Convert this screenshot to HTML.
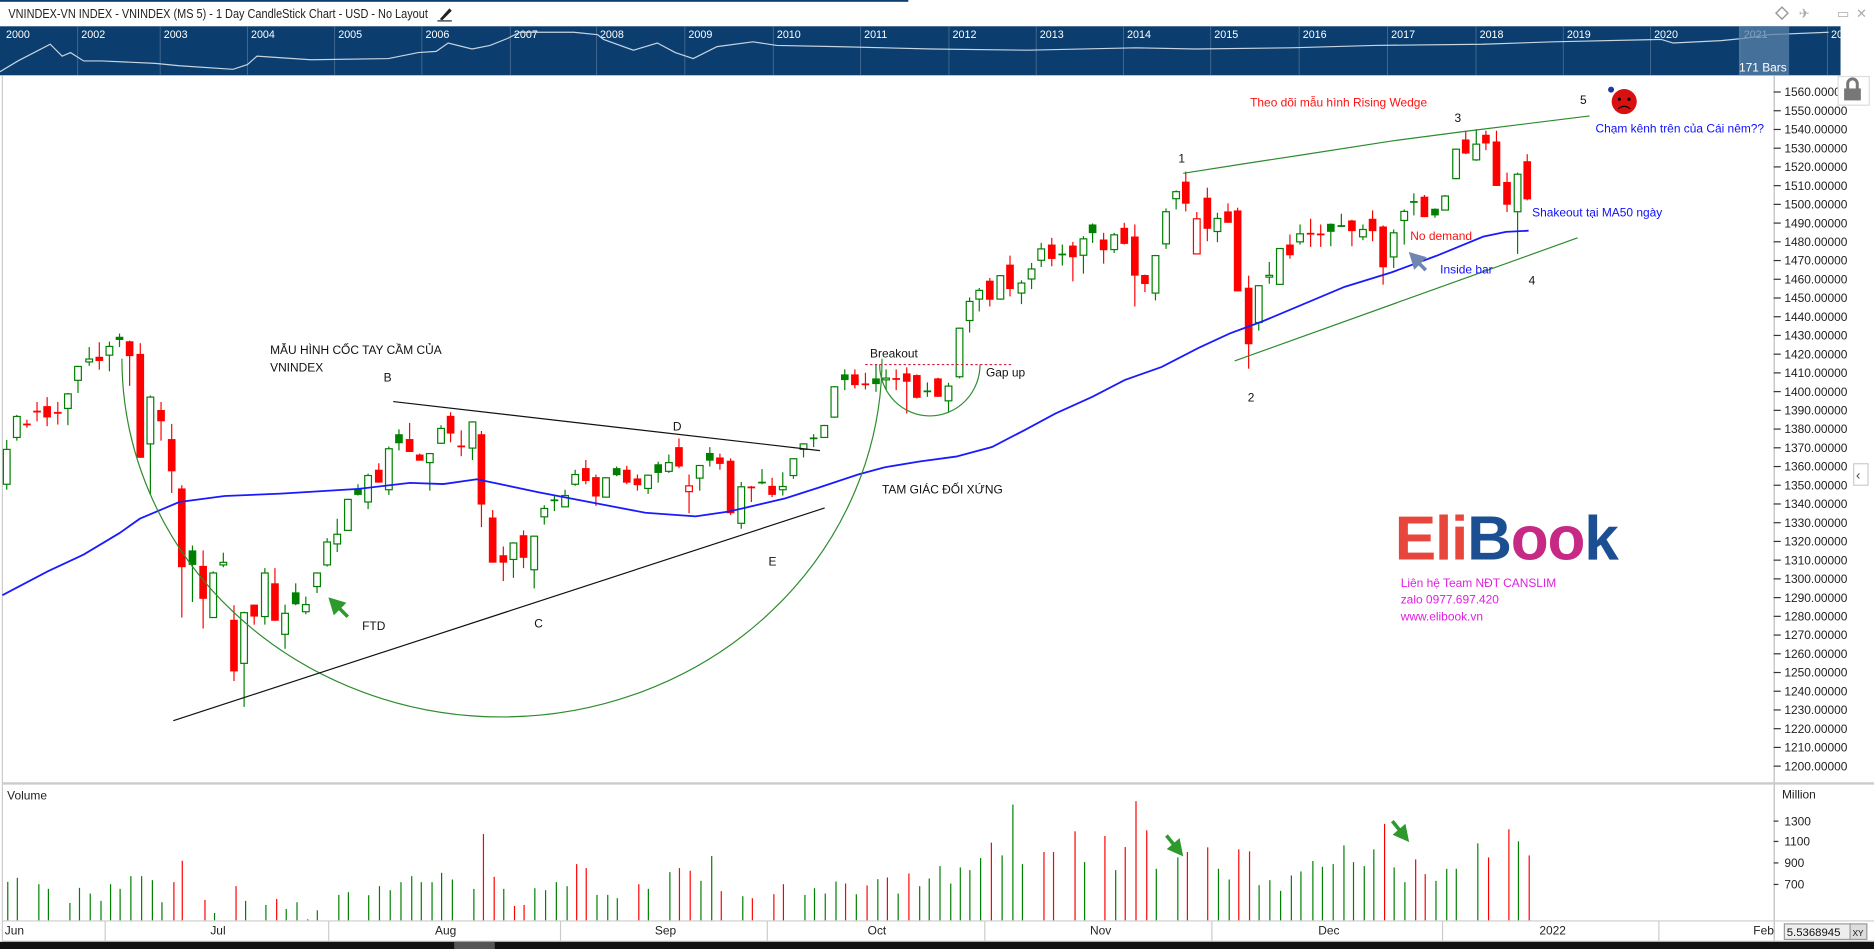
<!DOCTYPE html>
<html><head><meta charset="utf-8">
<style>
html,body{margin:0;padding:0;background:#fff;overflow:hidden}
svg{display:block}
text{font-family:"Liberation Sans","DejaVu Sans",sans-serif}
</style></head><body>
<svg id="s" width="1874" height="949" viewBox="0 0 1568 794" preserveAspectRatio="none" xmlns="http://www.w3.org/2000/svg">
<rect x="0" y="0" width="1568" height="794" fill="#fff"/>
<rect x="0" y="0" width="760" height="1.5" fill="#0b3d6e"/>
<text x="7" y="15" font-size="10.5" fill="#222" textLength="351" lengthAdjust="spacingAndGlyphs">VNINDEX-VN INDEX - VNINDEX (MS 5) - 1 Day CandleStick Chart - USD - No Layout</text>
<path d="M368,16 L376,7 L378,9 L370,17 Z" fill="#222"/><rect x="366" y="17" width="12" height="1" fill="#222"/>
<g fill="none" stroke="#999" stroke-width="1.2"><path d="M1486,11 L1491,6 L1496,11 L1491,16 Z"/></g>
<text x="1505" y="15" font-size="11" fill="#aaa">✈</text><text x="1537" y="15" font-size="11" fill="#aaa">▭</text><text x="1553" y="15" font-size="11" fill="#aaa">✕</text>
<rect x="0" y="22" width="1540" height="41" fill="#0b3d6e"/>
<g id="nav"></g>
<rect x="1455" y="22" width="42" height="41" fill="#5a82a8" opacity="0.75"/>
<text x="1495" y="60" font-size="10" fill="#fff" text-anchor="end">171 Bars</text>
<line x1="2" y1="63" x2="2" y2="787" stroke="#ccc"/>
<line x1="1484.5" y1="63" x2="1484.5" y2="787" stroke="#bbb"/>
<line x1="2" y1="655.5" x2="1568" y2="655.5" stroke="#ccc" stroke-width="2"/>
<line x1="2" y1="770.5" x2="1568" y2="770.5" stroke="#ccc"/>
<line x1="2" y1="787.5" x2="1568" y2="787.5" stroke="#ccc"/>
<rect x="0" y="788" width="1568" height="6" fill="#111"/>
<rect x="380" y="788" width="34" height="6" fill="#555"/>
<g id="axis"></g>
<rect x="1538" y="64" width="26" height="24" fill="#fff" stroke="#ddd"/>
<rect x="1543" y="74" width="14" height="10" fill="#777"/>
<path d="M1546,74 v-4 a4,4 0 0 1 8,0 v4" fill="none" stroke="#777" stroke-width="2.5"/>
<rect x="1551" y="388" width="12" height="18" fill="#fff" stroke="#ccc"/><text x="1553" y="401" font-size="11" fill="#444">‹</text>
<g id="chart"></g>
<path d="M102,300 A318,300 0 0 0 738,300" fill="none" stroke="#2e8b2e" stroke-width="1"/>
<path d="M736,305 A42,43 0 0 0 820,305" fill="none" stroke="#2e8b2e" stroke-width="1"/>
<line x1="724" y1="305" x2="847" y2="305" stroke="#d02040" stroke-dasharray="2,2"/>
<line x1="329" y1="336" x2="686" y2="377" stroke="#111" stroke-width="1"/>
<line x1="145" y1="603" x2="690" y2="425" stroke="#111" stroke-width="1"/>
<polyline points="990,145 1041,137 1087,130 1164,118 1225,110 1330,97" fill="none" stroke="#2e8b2e"/>
<polyline points="1033,302 1320,199" fill="none" stroke="#2e8b2e"/>
<g font-size="10" fill="#111">
<text x="226" y="296">MẪU HÌNH CỐC TAY CẦM CỦA</text>
<text x="226" y="311">VNINDEX</text>
<text x="321" y="319">B</text><text x="563" y="360">D</text><text x="447" y="525">C</text><text x="643" y="473">E</text>
<text x="303" y="527">FTD</text><text x="728" y="299">Breakout</text><text x="825" y="315">Gap up</text>
<text x="738" y="413">TAM GIÁC ĐỐI XỨNG</text>
<text x="986" y="136">1</text><text x="1044" y="336">2</text><text x="1217" y="102">3</text><text x="1279" y="238">4</text><text x="1322" y="87">5</text>
</g>
<text x="1046" y="89" font-size="10" fill="#ff1010">Theo dõi mẫu hình Rising Wedge</text>
<text x="1335" y="111" font-size="10" fill="#1010ff">Chạm kênh trên của Cái nêm??</text>
<text x="1282" y="181" font-size="10" fill="#1010ff">Shakeout tại MA50 ngày</text>
<text x="1180" y="201" font-size="10" fill="#ff1010">No demand</text>
<text x="1205" y="229" font-size="10" fill="#1010ff">Inside bar</text>
<circle cx="1359" cy="85" r="10.5" fill="#d81010"/><circle cx="1348" cy="75" r="2.5" fill="#2238a8"/>
<circle cx="1355" cy="83" r="1.3" fill="#000"/><circle cx="1363" cy="83" r="1.3" fill="#000"/>
<path d="M1354,91 q5,-4 10,0" fill="none" stroke="#000" stroke-width="1"/>
<g stroke="#2e9a2e" stroke-width="3" fill="#2e9a2e">
<line x1="291" y1="516" x2="281" y2="506"/><path d="M277,502 L287,505 L280,512 Z"/>
<line x1="976" y1="699" x2="984" y2="709"/><path d="M988,714 L979,710 L986,704 Z"/>
<line x1="1165" y1="687" x2="1173" y2="697"/><path d="M1177,702 L1168,698 L1175,692 Z"/>
</g>
<g stroke="#6f86b0" stroke-width="3" fill="#6f86b0"><line x1="1193" y1="226" x2="1185" y2="218"/><path d="M1181,213 L1191,216 L1184,223 Z"/></g>
<text x="1167" y="468" font-size="52" font-weight="bold" letter-spacing="-1"><tspan fill="#e8453c">Eli</tspan><tspan fill="#1c4f92">B</tspan><tspan fill="#c62a85">oo</tspan><tspan fill="#1c4f92">k</tspan></text>
<g font-size="10" fill="#e020e0"><text x="1172" y="491">Liên hệ Team NĐT CANSLIM</text><text x="1172" y="505">zalo 0977.697.420</text><text x="1172" y="519">www.elibook.vn</text></g>
<text x="6" y="669" font-size="10" fill="#222">Volume</text>
<text x="1491" y="668" font-size="10" fill="#222">Million</text>
<g id="vol"></g>
<g id="dates" font-size="10" fill="#222"></g>
<rect x="1493" y="773" width="55" height="13" fill="#eee" stroke="#999"/><text x="1495" y="783" font-size="9.5" fill="#111">5.5368945</text>
<rect x="1548" y="773" width="14" height="13" fill="#ddd" stroke="#999"/><text x="1550" y="783" font-size="7" fill="#111">XY</text>
</svg>
<script>
var NS="http://www.w3.org/2000/svg";
function el(p,t,a,txt){var e=document.createElementNS(NS,t);for(var k in a)e.setAttribute(k,a[k]);if(txt!==undefined)e.textContent=txt;document.getElementById(p).appendChild(e);return e;}
var yrs=[["2000",5],["2002",68],["2003",137],["2004",210],["2005",283],["2006",356],["2007",430],["2008",502],["2009",576],["2010",650],["2011",723],["2012",797],["2013",870],["2014",943],["2015",1016],["2016",1090],["2017",1164],["2018",1238],["2019",1311],["2020",1384],["2021",1459],["2022",1532]];
yrs.forEach(function(y){if(y[1]>10)el("nav","line",{x1:y[1]-3,y1:22,x2:y[1]-3,y2:63,stroke:"#4a6f96","stroke-width":0.7});el("nav","text",{x:y[1],y:32,"font-size":9,fill:"#fff"},y[0]);});
el("nav","polyline",{points:"0,60 15,51 42,37 52,47 59,44 70,51 85,51 130,53 150,55 195,58 207,54 215,47 260,50 325,49 350,44 365,43 375,36 395,41 410,38 425,32 435,27 480,27 500,29 505,33 530,42 550,36 565,44 580,49 600,39 630,35 650,38 700,39 780,41 860,42 950,40 1000,41 1080,40 1150,38 1240,37 1300,35 1390,33 1400,36 1440,34 1460,32 1480,29 1530,27",fill:"none",stroke:"#c8d4e0","stroke-width":1});
for(var p=1560;p>=1200;p-=10){var y=641-(p-1200)*1.5667;el("axis","line",{x1:1484,y1:y,x2:1490,y2:y,stroke:"#333"});el("axis","text",{x:1493,y:y+3.5,"font-size":10,fill:"#222"},p+".00000");}
var c4=[[12,'g',437,545,408,562],[30,'g',335,400,330,410],[48,'r',357,362,345,370],[66,'r',317,319,290,350],[84,'r',303,338,275,365],[103,'r',321,323,290,360],[121,'g',265,310,262,362],[139,'g',180,223,178,262],[159,'g',157,166,120,178],[177,'r',150,163,105,190],[195,'g',118,145,103,195],[213,'G',88,98,78,120],[231,'r',102,148,100,240],[250,'r',141,463,108,463],[268,'g',275,420,270,575],[287,'r',315,350,290,410],[306,'r',405,505,358,572],[324,'r',558,802,548,958],[343,'G',750,795,735,910],[362,'r',798,900,750,992],[380,'g',820,958,815,958],[398,'g',787,795,757,802],[417,'r',965,1125,920,1155],[435,'g',943,1100,940,1235],[453,'r',918,955,918,980],[472,'g',820,955,805,980],[490,'r',852,968,805,968],[508,'g',945,1010,918,1055],[527,'G',880,917,852,920],[545,'g',918,940,893,948],[565,'g',820,862,818,882],[583,'g',724,795,712,800],[601,'g',700,730,652,755],[620,'g',592,688,590,688],[638,'G',560,578,545,580],[656,'g',518,600,512,622],[675,'r',500,540,480,540],[693,'g',435,562,428,578],[711,'G',390,418,375,440],[730,'r',405,445,355,445],[748,'r',453,472,450,472],[766,'g',450,478,448,565],[786,'g',372,418,362,420],[803,'r',333,388,322,415],[822,'r',425,427,378,458],[842,'g',352,433,350,470],[858,'r',390,608,380,678],[878,'r',648,788,625,788],[897,'r',765,788,738,845],[915,'g',727,778,725,835],[933,'r',703,773,688,805],[952,'g',706,810,704,868],[970,'g',620,646,610,670],[988,'G',592,596,580,628],[1007,'g',580,615,562,615],[1025,'g',515,545,500,550],[1044,'r',495,535,470,545],[1062,'r',523,583,515,612],[1080,'g',525,585,523,585],[1099,'G',495,517,490,520],[1117,'r',500,540,488,545],[1136,'r',527,548,515,565],[1155,'g',517,558,515,575],[1173,'G',483,510,475,540],[1192,'g',478,505,453,510],[1210,'r',430,490,403,495],[1228,'R',550,568,515,635],[1247,'g',487,526,485,565],[1265,'G',448,472,430,490],[1283,'r',462,482,450,500],[1302,'r',472,635,465,640],[1321,'g',553,666,538,683],[1339,'r',552,555,550,600],[1358,'G',537,540,498,545],[1376,'r',550,578,525,585],[1395,'g',552,562,508,580],[1414,'g',466,518,464,528],[1432,'g',420,437,418,462],[1450,'G',400,405,390,430],[1469,'g',363,400,361,400],[1487,'g',243,337,241,339]];
var c5=[[10,'G',733,750,718,780],[32,'r',733,765,718,775],[55,'r',760,764,728,778],[78,'G',745,762,705,785],[100,'g',744,746,718,780],[122,'r',744,746,718,780],[145,'r',730,755,712,850],[167,'r',735,803,733,805],[190,'G',781,784,757,800],[213,'r',745,800,743,800],[236,'g',768,812,758,845],[260,'g',595,740,593,745],[282,'g',515,572,503,608],[303,'g',482,508,475,545],[326,'r',453,510,445,530],[349,'g',438,508,436,510],[370,'r',405,478,378,500],[395,'g',460,490,452,523],[417,'g',418,448,400,478],[438,'g',358,392,340,412],[461,'r',345,388,325,410],[484,'G',372,375,345,408],[507,'r',348,383,337,455],[530,'g',328,377,320,432],[550,'G',285,311,282,340],[574,'r',330,362,310,402],[597,'g',316,360,310,370],[619,'r',295,343,280,345],[642,'r',321,438,285,530],[664,'r',436,463,435,487],[687,'g',378,490,376,512],[710,'g',247,343,237,358],[732,'g',187,208,183,240],[753,'r',157,223,127,246],[777,'R',268,373,248,373],[800,'r',205,298,175,335],[822,'g',267,306,250,338],[845,'r',246,280,222,280],[866,'r',243,485,235,485],[890,'r',474,643,438,716],[912,'g',468,578,466,602],[935,'g',437,441,397,462],[958,'g',357,464,355,466],[980,'r',345,377,315,387],[1002,'g',313,337,285,345],[1025,'r',310,314,268,352],[1047,'r',312,315,285,352],[1069,'G',283,307,282,350],[1092,'G',287,292,253,293],[1115,'r',273,305,271,350],[1139,'g',300,322,285,332],[1160,'r',268,305,243,335],[1183,'r',291,413,288,465],[1206,'g',310,382,300,415],[1229,'g',246,273,240,345],[1250,'G',215,218,192,258],[1273,'r',202,263,197,263],[1296,'G',238,258,237,265],[1318,'g',200,242,197,242],[1342,'g',60,148,58,150],[1363,'r',31,73,5,75],[1386,'g',45,92,0,95],[1407,'r',17,43,5,63],[1430,'r',37,170,5,170],[1453,'r',158,226,130,248],[1476,'g',135,247,130,373],[1497,'r',96,210,75,213]];
var C=[];
c4.forEach(function(c){C.push([c[0]*0.4695,c[1],258+c[2]*0.27,258+c[3]*0.27,258+c[4]*0.27,258+c[5]*0.27]);});
c5.forEach(function(c){C.push([703+c[0]*0.384,c[1],108+c[2]*0.28,108+c[3]*0.28,108+c[4]*0.28,108+c[5]*0.28]);});
C.forEach(function(c){var x=c[0],t=c[1],col=(t=='r'||t=='R')?'#ff0000':'#008000';
 el("chart","line",{x1:x,y1:c[4],x2:x,y2:c[5],stroke:col,"stroke-width":1});
 var h=Math.max(c[3]-c[2],1.5);
 if(t=='g'||t=='R')el("chart","rect",{x:x-2.8,y:c[2],width:5.6,height:h,fill:"#fff",stroke:col,"stroke-width":1});
 else el("chart","rect",{x:x-3.2,y:c[2],width:6.4,height:h,fill:col});});
el("chart","polyline",{points:"2,498 40,478 70,464 100,446 117,434 150,420 188,415 235,413 300,409 343,404 371,405 399,401 423,406 451,412 493,420 540,429 582,432 610,428 657,417 685,408 718,397 740,391 770,386 800,382 830,374 857,360 883,346 914,332 941,318 972,307 1003,291 1029,279 1056,269 1087,256 1125,240 1164,228 1202,214 1241,198 1260,194 1279,193",fill:"none",stroke:"#1a1aff","stroke-width":1.5});
var V="6 g 335,14 g 323,32 g 342,40 g 356,58 g 398,66 g 353,75 g 370,84 g 392,92 g 342,100 g 356,109 g 318,118 g 318,127 g 330,135 g 396,145 r 336,152 r 272,171 r 389,179 g 428,197 r 348,205 g 392,222 g 404,231 r 386,239 g 416,248 g 396,257 g 447,265 g 420,283 g 374,291 g 366,308 g 375,317 g 348,326 g 360,335 g 336,344 g 318,352 g 336,361 g 336,369 g 308,378 g 328,396 g 356,404 r 192,413 r 320,421 g 356,430 r 407,438 r 404,447 g 354,456 g 360,465 g 336,474 g 348,482 r 282,490 r 294,499 g 374,508 g 374,516 g 384,534 r 342,542 g 356,560 g 306,568 r 294,577 r 302,586 g 332,595 g 258,603 r 363,621 g 378,629 r 384,647 r 372,655 r 342,673 g 374,681 g 354,690 g 370,699 g 334,707 r 340,716 g 372,725 r 346,734 g 327,742 r 322,751 g 370,760 r 310,769 g 348,777 g 325,786 g 288,795 g 340,803 g 292,811 g 300,820 g 264,829 r 218,838 g 256,847 g 104,855 g 282,873 r 246,881 r 246,899 r 184,907 g 276,924 r 198,933 g 300,941 r 231,950 r 94,959 r 181,967 g 296,985 g 262,993 r 246,1010 r 232,1019 g 296,1028 g 328,1036 r 238,1045 r 244,1053 g 345,1062 g 330,1071 g 362,1080 g 316,1088 g 304,1098 g 273,1106 g 290,1115 g 282,1124 g 226,1132 g 276,1141 g 288,1149 g 238,1158 r 162,1166 g 292,1175 g 336,1184 r 268,1192 r 312,1201 g 332,1210 g 296,1218 g 296,1236 g 220,1245 r 262,1262 r 178,1270 g 214,1279 r 256";
V.split(",").forEach(function(s){var a=s.split(" ");var x=+a[0]+0.5;el("vol","line",{x1:x,y1:644+(+a[2])*0.28,x2:x,y2:770,stroke:a[1]=='r'?'#ff0000':'#008000',"stroke-width":1});});
[[1300,687],[1100,704],[900,722],[700,740]].forEach(function(v){el("vol","line",{x1:1484,y1:v[1],x2:1488,y2:v[1],stroke:"#333"});el("vol","text",{x:1493,y:v[1]+3.5,"font-size":10,fill:"#222"},v[0]);});
[88,275,469,642,824,1014,1207,1388].forEach(function(x){el("dates","line",{x1:x,y1:771,x2:x,y2:787,stroke:"#ccc"});});
[["Jun",4],["Jul",176],["Aug",364],["Sep",548],["Oct",726],["Nov",912],["Dec",1103],["2022",1288],["Feb",1467]].forEach(function(d){el("dates","text",{x:d[1],y:782},d[0]);});
</script>
</body></html>
